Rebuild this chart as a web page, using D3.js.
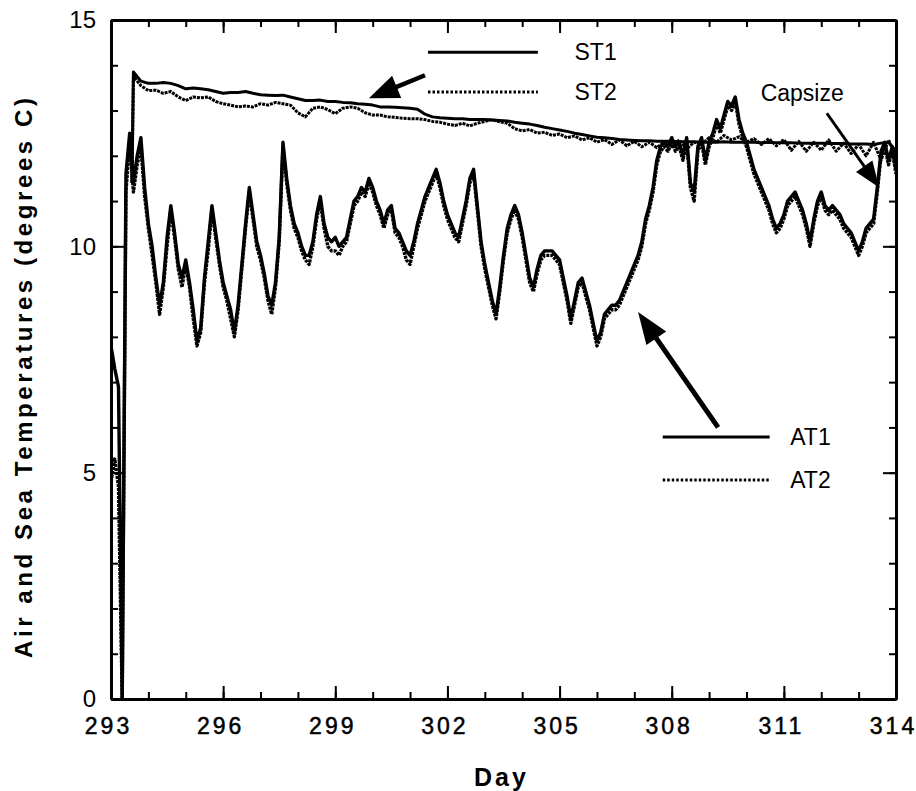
<!DOCTYPE html>
<html>
<head>
<meta charset="utf-8">
<script src="https://cdn.jsdelivr.net/npm/d3@7"></script>
<style>
  body { margin: 0; background: #fff; }
  text { font-family: "Liberation Sans", Arial, Helvetica, sans-serif; fill: #000; }
</style>
</head>
<body>
<div id="chart"></div>
<script>
// ---- data ----
// air temperatures, one reading every 0.1 day from day 293.0
var atStart = 293.0, atStep = 0.1;
var at1Values = [
  7.8, 7.3, 6.9, 0.0, 11.6, 12.5, 11.4, 12.0, 12.4, 11.3,
  10.5, 10.0, 9.3, 8.7, 9.2, 10.2, 10.9, 10.3, 9.6, 9.3,
  9.7, 9.2, 8.6, 7.9, 8.2, 9.3, 10.1, 10.9, 10.3, 9.7,
  9.2, 8.9, 8.6, 8.1, 8.7, 9.6, 10.5, 11.3, 10.7, 10.1,
  9.8, 9.4, 8.9, 8.7, 9.2, 10.2, 12.3, 11.5, 10.9, 10.5,
  10.3, 10.0, 9.8, 9.8, 10.1, 10.7, 11.1, 10.5, 10.2, 10.1,
  10.2, 10.0, 10.1, 10.2, 10.6, 11.0, 11.1, 11.3, 11.2, 11.5,
  11.3, 11.0, 10.8, 10.5, 10.8, 10.9, 10.4, 10.3, 10.1, 9.9,
  9.8, 10.1, 10.5, 10.8, 11.1, 11.3, 11.5, 11.7, 11.4, 11.0,
  10.7, 10.5, 10.3, 10.2, 10.6, 11.0, 11.5, 11.7, 10.9, 10.1,
  9.6, 9.2, 8.8, 8.5, 9.1, 9.8, 10.4, 10.7, 10.9, 10.7,
  10.3, 9.8, 9.3, 9.1, 9.5, 9.8, 9.9, 9.9, 9.9, 9.8,
  9.7, 9.3, 8.9, 8.4, 8.8, 9.2, 9.3, 9.0, 8.7, 8.3,
  7.9, 8.1, 8.5, 8.6, 8.7, 8.7, 8.8, 9.0, 9.2, 9.4,
  9.6, 9.8, 10.1, 10.6, 10.9, 11.3, 11.9, 12.2, 12.3, 12.2,
  12.4, 12.2, 12.3, 12.0, 12.4, 11.4, 11.2, 12.2, 12.4, 11.9,
  12.3, 12.5, 12.8, 12.6, 12.9, 13.2, 13.1, 13.3, 12.8, 12.5,
  12.3, 12.0, 11.7, 11.5, 11.3, 11.1, 10.9, 10.6, 10.4, 10.5,
  10.7, 11.0, 11.1, 11.2, 11.0, 10.8, 10.5, 10.1, 10.6, 11.0,
  11.2, 10.9, 10.8, 10.9, 10.8, 10.7, 10.5, 10.4, 10.3, 10.1,
  9.9, 10.1, 10.4, 10.5, 10.6, 11.3, 12.1, 12.3, 11.9, 12.2,
  11.7
];
var at2Values = [
  4.8, 5.3, 4.7, 0.0, 11.2, 12.3, 11.2, 11.8, 12.2, 11.1,
  10.4, 9.8, 9.2, 8.5, 9.1, 10.0, 10.8, 10.2, 9.5, 9.1,
  9.6, 9.1, 8.4, 7.8, 8.1, 9.2, 9.9, 10.8, 10.2, 9.6,
  9.1, 8.8, 8.4, 8.0, 8.6, 9.5, 10.4, 11.2, 10.6, 10.0,
  9.7, 9.3, 8.8, 8.5, 9.1, 10.1, 12.2, 11.4, 10.8, 10.4,
  10.2, 9.9, 9.7, 9.6, 10.0, 10.6, 11.0, 10.4, 10.0, 9.9,
  9.9, 9.8, 10.0, 10.1, 10.5, 10.9, 11.0, 11.2, 11.1, 11.4,
  11.2, 10.9, 10.7, 10.4, 10.7, 10.8, 10.3, 10.2, 10.0, 9.7,
  9.6, 10.0, 10.4, 10.7, 11.0, 11.2, 11.4, 11.6, 11.3, 10.9,
  10.6, 10.4, 10.2, 10.1, 10.5, 10.9, 11.4, 11.6, 10.8, 10.0,
  9.5, 9.1, 8.7, 8.4, 9.0, 9.7, 10.3, 10.6, 10.8, 10.6,
  10.2, 9.7, 9.2, 9.0, 9.4, 9.7, 9.8, 9.8, 9.8, 9.7,
  9.6, 9.2, 8.8, 8.3, 8.7, 9.1, 9.2, 8.9, 8.6, 8.2,
  7.8, 8.0, 8.4, 8.5, 8.6, 8.6, 8.7, 8.9, 9.1, 9.3,
  9.5, 9.7, 10.0, 10.5, 10.8, 11.2, 11.8, 12.1, 12.2, 12.1,
  12.3, 12.1, 12.2, 11.9, 12.3, 11.3, 11.0, 12.1, 12.3, 11.8,
  12.2, 12.4, 12.7, 12.5, 12.8, 13.1, 13.0, 13.2, 12.7, 12.4,
  12.2, 11.9, 11.6, 11.4, 11.2, 11.0, 10.8, 10.5, 10.3, 10.4,
  10.6, 10.9, 11.0, 11.1, 10.9, 10.7, 10.4, 10.0, 10.5, 10.9,
  11.1, 10.8, 10.7, 10.8, 10.7, 10.6, 10.4, 10.3, 10.2, 10.0,
  9.8, 10.0, 10.3, 10.4, 10.5, 11.2, 12.0, 12.2, 11.8, 12.1,
  11.6
];

// sea temperatures, one reading every 0.2 day from day 293.6,
// after the sensors went in the water at stRiseDay
var stRiseDay = 293.56, stRiseValue = 11.4;
var stStart = 293.6, stStep = 0.2;
var st1Values = [
  13.85, 13.65,
  13.60, 13.60, 13.62, 13.60, 13.55,
  13.48, 13.50, 13.48, 13.46, 13.42,
  13.38, 13.40, 13.40, 13.42, 13.38,
  13.35, 13.34, 13.33, 13.34, 13.30,
  13.26, 13.22, 13.22, 13.23, 13.20,
  13.20, 13.18, 13.17, 13.15, 13.14,
  13.12, 13.08, 13.08, 13.07, 13.06,
  13.05, 13.03, 12.92, 12.86, 12.84,
  12.83, 12.82, 12.82, 12.80, 12.80,
  12.80, 12.79, 12.78, 12.77, 12.74,
  12.72, 12.70, 12.67, 12.63, 12.60,
  12.57, 12.54, 12.50, 12.47, 12.44,
  12.41, 12.40, 12.38, 12.36, 12.35,
  12.34, 12.33, 12.33, 12.32, 12.32,
  12.32, 12.31, 12.31, 12.31, 12.30,
  12.30, 12.30, 12.31, 12.30, 12.30,
  12.30, 12.30, 12.29, 12.30, 12.29,
  12.29, 12.29, 12.28, 12.28, 12.28,
  12.28, 12.27, 12.27, 12.27, 12.26,
  12.26, 12.26, 12.25, 12.28, 12.30,
  12.10
];
var st2Values = [
  13.75, 13.55,
  13.44, 13.45, 13.38, 13.42, 13.30,
  13.22, 13.30, 13.28, 13.30, 13.20,
  13.15, 13.12, 13.08, 13.10, 13.08,
  13.15, 13.12, 13.18, 13.15, 13.12,
  12.95, 12.86, 13.05, 13.08, 13.02,
  12.93, 13.05, 13.08, 13.05, 12.95,
  12.90, 12.90, 12.86, 12.85, 12.83,
  12.82, 12.82, 12.80, 12.76, 12.74,
  12.70, 12.67, 12.72, 12.66, 12.72,
  12.76, 12.80, 12.75, 12.72, 12.60,
  12.55, 12.58, 12.50, 12.52, 12.45,
  12.48, 12.40, 12.44, 12.35, 12.40,
  12.30, 12.36, 12.25, 12.35, 12.22,
  12.32, 12.20, 12.30, 12.18, 12.30,
  12.20, 12.35, 12.15, 12.30, 12.25,
  12.40, 12.30, 12.45, 12.35, 12.42,
  12.30, 12.38, 12.25, 12.38, 12.22,
  12.36, 12.12, 12.32, 12.10, 12.30,
  12.12, 12.35, 12.10, 12.28, 12.05,
  12.25, 12.00, 12.30, 11.90, 12.35,
  12.00
];

// axis ticks
var dayMajorTicks = [293, 296, 299, 302, 305, 308, 311, 314];
var dayMinorTicks = d3.range(293, 315, 1);
var tempMajorTicks = [0, 5, 10, 15];
var tempMinorTicks = d3.range(0, 16, 1);

// ---- layout ----
var W = 916, H = 791;
var plot = {left: 111, right: 896, top: 20, bottom: 699};

var svg = d3.select("#chart").append("svg")
  .attr("width", W).attr("height", H);

var x = d3.scaleLinear().domain([293, 314]).range([plot.left, plot.right]);
var y = d3.scaleLinear().domain([0, 15]).range([plot.bottom, plot.top]);

function toPoints(start, step, values) {
  return values.map(function(v, i) { return [start + i * step, v]; });
}

var series = [
  {name: "ST1", dotted: false, width: 3,   pts: [[stRiseDay, stRiseValue]].concat(toPoints(stStart, stStep, st1Values))},
  {name: "ST2", dotted: true,  width: 3,   pts: [[stRiseDay, stRiseValue]].concat(toPoints(stStart, stStep, st2Values))},
  {name: "AT1", dotted: false, width: 3.4, pts: toPoints(atStart, atStep, at1Values)},
  {name: "AT2", dotted: true,  width: 3.4, pts: toPoints(atStart, atStep, at2Values)}
];

// clip for the data
svg.append("clipPath").attr("id", "plotclip")
  .append("rect")
  .attr("x", plot.left).attr("y", plot.top)
  .attr("width", plot.right - plot.left).attr("height", plot.bottom - plot.top);

var line = d3.line()
  .x(function(d) { return x(d[0]); })
  .y(function(d) { return y(d[1]); });

svg.append("g").attr("clip-path", "url(#plotclip)")
  .selectAll("path").data(series).enter()
  .append("path")
  .attr("d", function(d) { return line(d.pts); })
  .attr("fill", "none")
  .attr("stroke", "#000")
  .attr("stroke-width", function(d) { return d.width; })
  .attr("stroke-linejoin", "round")
  .attr("stroke-dasharray", function(d) { return d.dotted ? "3,1" : null; });

// ---- axes (ticks point inward) ----
function styleAxis(g, domainWidth) {
  g.select(".domain").attr("stroke", "#000").attr("stroke-width", domainWidth);
  g.selectAll(".tick line").attr("stroke", "#000").attr("stroke-width", 2);
}

// minor ticks
svg.append("g").attr("transform", "translate(0," + plot.bottom + ")")
  .call(d3.axisBottom(x).tickValues(dayMinorTicks).tickSizeInner(-7).tickSizeOuter(0).tickFormat(""))
  .call(styleAxis, 3);
svg.append("g").attr("transform", "translate(0," + plot.top + ")")
  .call(d3.axisTop(x).tickValues(dayMinorTicks).tickSizeInner(-7).tickSizeOuter(0).tickFormat(""))
  .call(styleAxis, 3);
svg.append("g").attr("transform", "translate(" + plot.left + ",0)")
  .call(d3.axisLeft(y).tickValues(tempMinorTicks).tickSizeInner(-7).tickSizeOuter(0).tickFormat(""))
  .call(styleAxis, 3);
svg.append("g").attr("transform", "translate(" + plot.right + ",0)")
  .call(d3.axisRight(y).tickValues(tempMinorTicks).tickSizeInner(-7).tickSizeOuter(0).tickFormat(""))
  .call(styleAxis, 3);

// major ticks with labels
var xMajor = svg.append("g").attr("transform", "translate(0," + plot.bottom + ")")
  .call(d3.axisBottom(x).tickValues(dayMajorTicks).tickSizeInner(-13).tickSizeOuter(0).tickPadding(19))
  .call(styleAxis, 3);
xMajor.selectAll("text")
  .attr("font-size", 23).attr("letter-spacing", "3px").attr("dx", "-3px")
  .attr("stroke", "#000").attr("stroke-width", 0.5)
  .style("font-family", "'Liberation Sans', Arial, sans-serif");

svg.append("g").attr("transform", "translate(0," + plot.top + ")")
  .call(d3.axisTop(x).tickValues(dayMajorTicks).tickSizeInner(-13).tickSizeOuter(0).tickFormat(""))
  .call(styleAxis, 3);

var yMajor = svg.append("g").attr("transform", "translate(" + plot.left + ",0)")
  .call(d3.axisLeft(y).tickValues(tempMajorTicks).tickSizeInner(-13).tickSizeOuter(0).tickPadding(15))
  .call(styleAxis, 3);
yMajor.selectAll("text")
  .attr("font-size", 24)
  .style("font-family", "'Liberation Sans', Arial, sans-serif");

svg.append("g").attr("transform", "translate(" + plot.right + ",0)")
  .call(d3.axisRight(y).tickValues(tempMajorTicks).tickSizeInner(-13).tickSizeOuter(0).tickFormat(""))
  .call(styleAxis, 3);

svg.selectAll("g.tick text").attr("fill", "#000");

// ---- axis titles ----
svg.append("text")
  .attr("x", (plot.left + plot.right) / 2 - 2)
  .attr("y", 786)
  .attr("text-anchor", "middle")
  .attr("font-size", 25).attr("font-weight", "bold")
  .attr("letter-spacing", "3px")
  .text("Day");

svg.append("text")
  .attr("transform", "translate(32,378) rotate(-90)")
  .attr("text-anchor", "middle")
  .attr("font-size", 24).attr("font-weight", "bold")
  .attr("textLength", 560).attr("lengthAdjust", "spacing")
  .text("Air and Sea Temperatures (degrees C)");

// ---- legends ----
var legendItems = [
  {label: "ST1", dotted: false, x0: 301.48, x1: 304.42, yv: 14.29, tx: 305.4},
  {label: "ST2", dotted: true,  x0: 301.48, x1: 304.42, yv: 13.41, tx: 305.4},
  {label: "AT1", dotted: false, x0: 307.76, x1: 310.62, yv: 5.79,  tx: 311.17},
  {label: "AT2", dotted: true,  x0: 307.76, x1: 310.62, yv: 4.84,  tx: 311.17}
];
var leg = svg.append("g").selectAll("g").data(legendItems).enter().append("g");
leg.append("line")
  .attr("x1", function(d) { return x(d.x0); })
  .attr("x2", function(d) { return x(d.x1); })
  .attr("y1", function(d) { return y(d.yv); })
  .attr("y2", function(d) { return y(d.yv); })
  .attr("stroke", "#000")
  .attr("stroke-width", 3)
  .attr("stroke-dasharray", function(d) { return d.dotted ? "2.5,2" : null; });
leg.append("text")
  .attr("x", function(d) { return x(d.tx); })
  .attr("y", function(d) { return y(d.yv); })
  .attr("dy", "0.36em")
  .attr("font-size", 23)
  .text(function(d) { return d.label; });

svg.append("text")
  .attr("x", x(310.38)).attr("y", y(13.2))
  .attr("font-size", 23)
  .text("Capsize");

// ---- arrows ----
var arrows = [
  {from: [301.4, 13.78], to: [299.9, 13.27], shaft: 4.5, len: 30, half: 12},
  {from: [309.24, 6.0],  to: [307.1, 8.55],  shaft: 5,   len: 32, half: 12},
  {from: [312.15, 12.94], to: [313.55, 11.3], shaft: 3,  len: 26, half: 10}
];
function arrowPath(a) {
  var x1 = x(a.from[0]), y1 = y(a.from[1]), x2 = x(a.to[0]), y2 = y(a.to[1]);
  var dx = x2 - x1, dy = y2 - y1, L = Math.sqrt(dx * dx + dy * dy);
  var ux = dx / L, uy = dy / L;
  var bx = x2 - ux * a.len, by = y2 - uy * a.len;
  return {
    shaft: [[x1, y1], [bx + ux * 2, by + uy * 2]],
    head: [[x2, y2], [bx - uy * a.half, by + ux * a.half], [bx + uy * a.half, by - ux * a.half]]
  };
}
var arr = svg.append("g").selectAll("g").data(arrows).enter().append("g");
arr.append("line")
  .attr("x1", function(d) { return arrowPath(d).shaft[0][0]; })
  .attr("y1", function(d) { return arrowPath(d).shaft[0][1]; })
  .attr("x2", function(d) { return arrowPath(d).shaft[1][0]; })
  .attr("y2", function(d) { return arrowPath(d).shaft[1][1]; })
  .attr("stroke", "#000")
  .attr("stroke-width", function(d) { return d.shaft; });
arr.append("path")
  .attr("d", function(d) { return "M" + arrowPath(d).head.join("L") + "Z"; })
  .attr("fill", "#000");
</script>
</body>
</html>
